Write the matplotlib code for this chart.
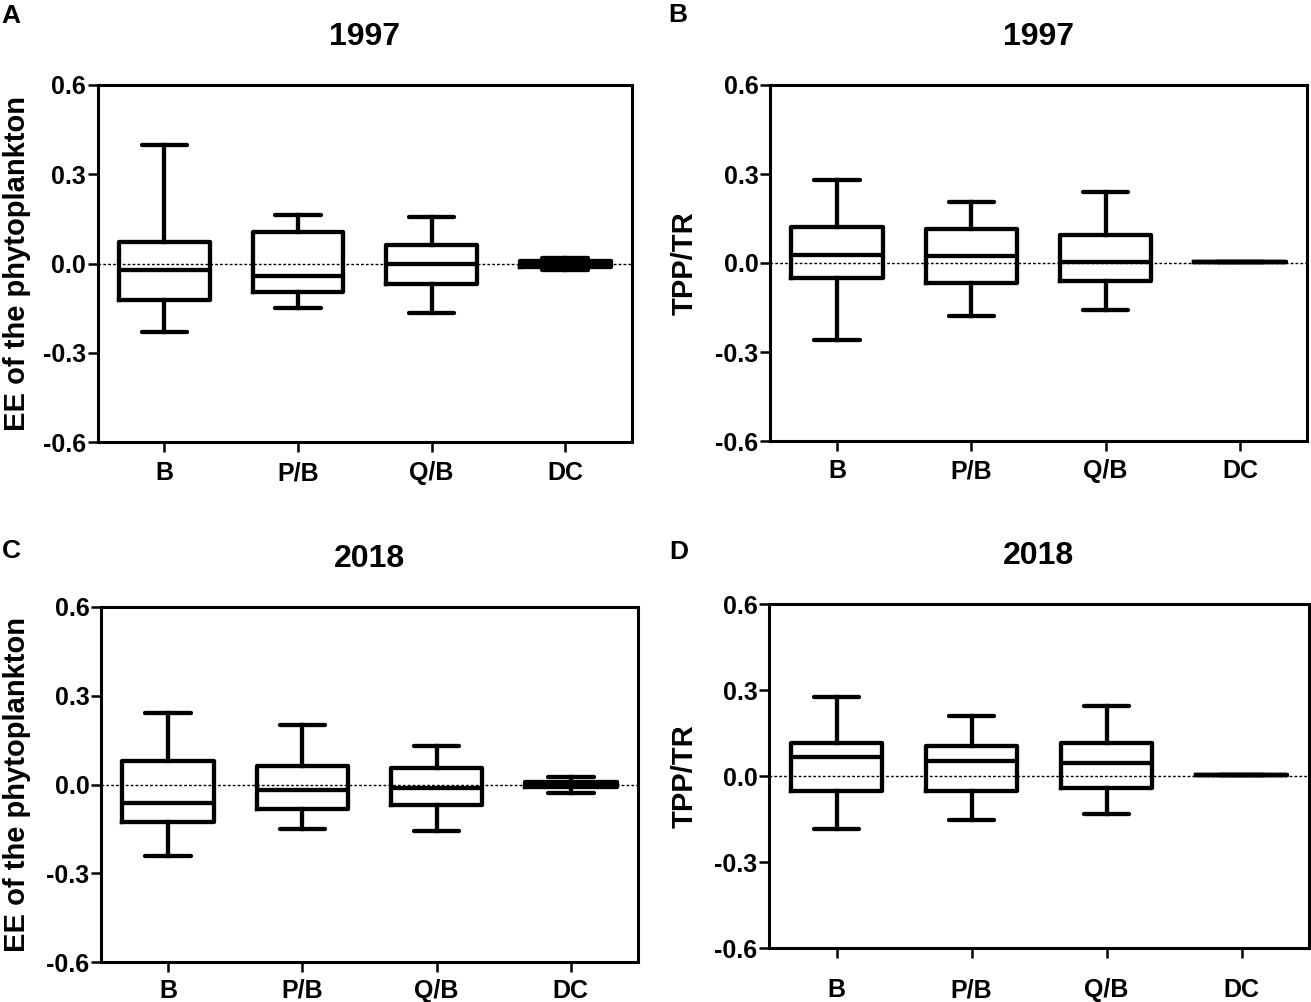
import numpy as np
import matplotlib
matplotlib.use('Agg')
import matplotlib.pyplot as plt

plt.rcParams['font.family'] = ['Liberation Sans', 'DejaVu Sans']
plt.rcParams['font.weight'] = 'bold'

categories = ['B', 'P/B', 'Q/B', 'DC']
yticks = [-0.6, -0.3, 0.0, 0.3, 0.6]

# panel A: EE 1997
A_low = [-0.230, -0.148, -0.168, -0.022]
A_q1 = [-0.122, -0.095, -0.068, -0.011]
A_med = [-0.021, -0.041, 0.0, 0.0]
A_q3 = [0.072, 0.105, 0.061, 0.009]
A_high = [0.400, 0.163, 0.156, 0.019]

# panel B: TPP/TR 1997
B_low = [-0.261, -0.177, -0.158, 0.005]
B_q1 = [-0.049, -0.068, -0.060, 0.005]
B_med = [0.027, 0.023, 0.004, 0.005]
B_q3 = [0.123, 0.115, 0.096, 0.005]
B_high = [0.280, 0.207, 0.238, 0.005]

# panel C: EE 2018
C_low = [-0.240, -0.152, -0.158, -0.030]
C_q1 = [-0.127, -0.084, -0.068, -0.008]
C_med = [-0.063, -0.020, -0.011, 0.002]
C_q3 = [0.080, 0.064, 0.057, 0.009]
C_high = [0.241, 0.202, 0.131, 0.026]

# panel D: TPP/TR 2018
D_low = [-0.184, -0.152, -0.132, 0.002]
D_q1 = [-0.053, -0.051, -0.042, 0.002]
D_med = [0.065, 0.051, 0.044, 0.002]
D_q3 = [0.116, 0.103, 0.116, 0.002]
D_high = [0.276, 0.210, 0.244, 0.002]


def make_stats(low, q1, med, q3, high):
    stats = []
    for i in range(len(categories)):
        stats.append({'whislo': low[i], 'q1': q1[i], 'med': med[i],
                      'q3': q3[i], 'whishi': high[i], 'fliers': []})
    return stats


W, H = 1311, 1002
fig = plt.figure(figsize=(W / 100, H / 100), dpi=100)

# (left, right, top, bottom) in pixels
panels = [
    ('A', '1997', 'EE of the phytoplankton', (97.5, 632, 85, 442),
     make_stats(A_low, A_q1, A_med, A_q3, A_high), -0.125, 6.5, (11, 16)),
    ('B', '1997', 'TPP/TR', (770, 1307, 85, 441),
     make_stats(B_low, B_q1, B_med, B_q3, B_high), -0.132, 6.0, (678, 15)),
    ('C', '2018', 'EE of the phytoplankton', (101, 638, 607, 962),
     make_stats(C_low, C_q1, C_med, C_q3, C_high), -0.130, 5.0, (11, 551)),
    ('D', '2018', 'TPP/TR', (769, 1309, 604, 948),
     make_stats(D_low, D_q1, D_med, D_q3, D_high), -0.130, 14.5, (679, 552)),
]

lw = 3.1
for letter, title, ylab, (l, r, t, b), stats, ylx, xpad, (lx, ly) in panels:
    ax = fig.add_axes([l / W, 1 - b / H, (r - l) / W, (b - t) / H])
    ax.axhline(0, color='black', lw=1.0, ls=(0, (2, 1.5)), zorder=1)
    line = dict(color='black', linewidth=lw)
    ax.bxp(stats, positions=range(len(categories)), widths=0.68, capwidths=0.34,
           showfliers=False, boxprops=line, medianprops=line,
           whiskerprops=line, capprops=dict(color='black', linewidth=lw, solid_capstyle='round'))
    ax.set_xlim(-0.5, 3.5)
    ax.set_ylim(-0.6, 0.6)
    ax.set_yticks(yticks)
    ax.set_yticklabels(['%.1f' % v for v in yticks])
    ax.set_xticks(range(len(categories)))
    ax.set_xticklabels(categories)
    ax.tick_params(axis='both', direction='out', length=7.2, width=1.8, labelsize=18)
    ax.tick_params(axis='y', pad=1)
    ax.tick_params(axis='x', pad=xpad)
    for sp in ax.spines.values():
        sp.set_linewidth(2.2)
    ax.set_title(title, fontsize=23, fontweight='bold', pad=29)
    ax.set_ylabel(ylab, fontsize=21, fontweight='bold')
    ax.yaxis.set_label_coords(ylx, 0.5)
    fig.text(lx / W, 1 - ly / H, letter, fontsize=19, fontweight='bold',
             ha='center', va='center')

fig.savefig('out.png', dpi=100)
